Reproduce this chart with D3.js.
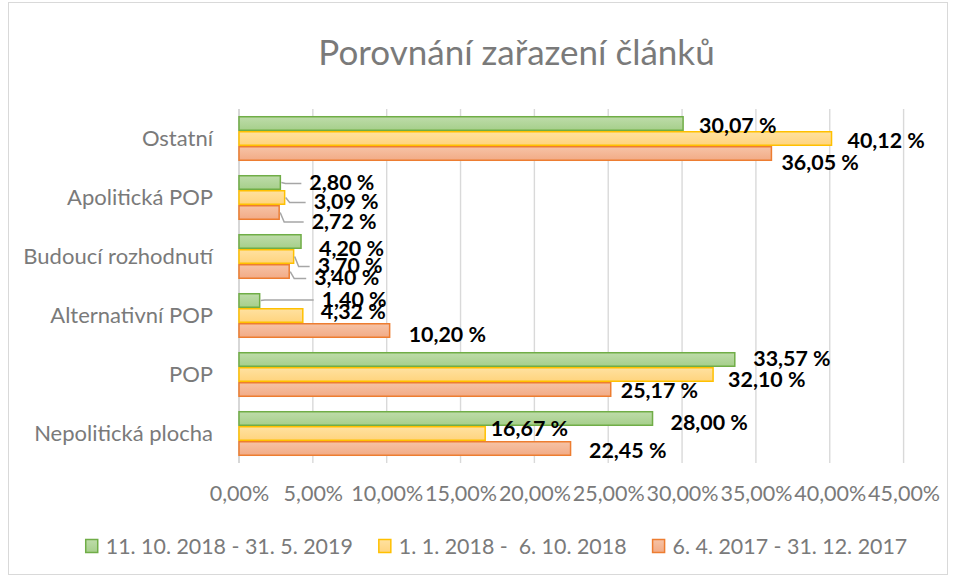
<!DOCTYPE html>
<html><head><meta charset="utf-8">
<script src="https://cdnjs.cloudflare.com/ajax/libs/d3/7.8.5/d3.min.js"></script>
<style>
html,body{margin:0;padding:0;background:#fff;}
svg{display:block;}
text{font-family:Lato,"Open Sans",sans-serif;}
</style></head>
<body>
<svg id="chart" width="956" height="578"></svg>
<script>
// ---- data ----
const title = "Porovnání zařazení článků";
const categories = ["Ostatní","Apolitická POP","Budoucí rozhodnutí","Alternativní POP","POP","Nepolitická plocha"];
const seriesNames = ["11. 10. 2018 - 31. 5. 2019","1. 1. 2018 -  6. 10. 2018","6. 4. 2017 - 31. 12. 2017"];
const valuesA = [30.07, 2.80, 4.20, 1.40, 33.57, 28.00];
const valuesB = [40.12, 3.09, 3.70, 4.32, 32.10, 16.67];
const valuesC = [36.05, 2.72, 3.40, 10.20, 25.17, 22.45];
const tickValues = [0,5,10,15,20,25,30,35,40,45];

// ---- layout / style ----
const seriesStyle = [
  {stroke:"#70ad47", top:"#bedcaa", bottom:"#a6cf8b"},
  {stroke:"#ffc000", top:"#ffe1a0", bottom:"#ffd47e"},
  {stroke:"#ed7d31", top:"#f6c3a6", bottom:"#f2ab86"}
];
// label nudges [dx, dy, leader] per series per category, relative to default position
const labelNudge = [
  [[0,0,0],[13,-2,1],[2,4.5,0],[46,-3.5,1],[2.5,-3,0],[2,2,0]],
  [[0,0,0],[13,2,1],[8,7,1],[2,-6,0],[-1,3,0],[-10.5,-7.5,0]],
  [[-6,7,0],[16.5,6.5,1],[9,4,1],[3,2,0],[-6,-1.5,0],[2.5,0,0]]
];
const seriesValues = [valuesA, valuesB, valuesC];

const svg = d3.select("#chart");
const textGray = "#7a7a7a";

// chart border
svg.append("rect").attr("x",8.5).attr("y",2.5).attr("width",939).attr("height",572)
  .attr("fill","none").attr("stroke","#d9d9d9").attr("stroke-width",1);

// gradients
const defs = svg.append("defs");
seriesStyle.forEach((s,i)=>{
  const g = defs.append("linearGradient").attr("id","g"+i).attr("x1",0).attr("y1",0).attr("x2",0).attr("y2",1);
  g.append("stop").attr("offset","0%").attr("stop-color",s.top);
  g.append("stop").attr("offset","100%").attr("stop-color",s.bottom);
});

const x = d3.scaleLinear().domain([0,45]).range([239,903.6]);
const y = d3.scaleBand().domain(categories).range([109,463]).paddingInner(0.237).paddingOuter(0.1185);
const ys = d3.scaleBand().domain([0,1,2]).range([0,y.bandwidth()]);

// title
svg.append("text").attr("x",516.5).attr("y",64.5).attr("text-anchor","middle")
  .attr("font-size",35).attr("fill",textGray).text(title);

// gridlines
svg.append("g").selectAll("line").data(tickValues).join("line")
  .attr("x1",d=>x(d)).attr("x2",d=>x(d)).attr("y1",109).attr("y2",463)
  .attr("stroke",d=>d===0?"#c6c6c6":"#d9d9d9").attr("stroke-width",1.4);

// x axis labels
const xAxis = d3.axisBottom(x).tickValues(tickValues).tickSize(0)
  .tickFormat(d=>d.toFixed(2).replace(".",",")+"%");
const gx = svg.append("g").attr("transform","translate(0,463)").call(xAxis);
gx.select(".domain").remove();
gx.selectAll("text").attr("y",37.8).attr("dy",0).attr("font-size",21.5)
  .attr("fill",textGray).style("font-family","Lato");

// y axis labels
const yAxis = d3.axisLeft(y).tickSize(0).tickPadding(0);
const gy = svg.append("g").attr("transform","translate(213,0)").call(yAxis);
gy.select(".domain").remove();
gy.selectAll("text").attr("x",0).attr("dy","0.36em").attr("font-size",22)
  .attr("fill",textGray).style("font-family","Lato");

// bars
const barData = [];
seriesValues.forEach((vals,s)=>vals.forEach((v,c)=>barData.push({s,c,v})));
svg.append("g").selectAll("rect").data(barData).join("rect")
  .attr("x",x(0)).attr("y",d=>y(categories[d.c])+ys(d.s)+0.75)
  .attr("width",d=>x(d.v)-x(0)).attr("height",ys.bandwidth()-1.5)
  .attr("fill",d=>`url(#g${d.s})`).attr("stroke",d=>seriesStyle[d.s].stroke).attr("stroke-width",1.5);

// labels
const fmt = v=>v.toFixed(2).replace(".",",")+" %";
const lab = barData.map(d=>{
  const n = labelNudge[d.s][d.c];
  const bx = x(d.v), by = y(categories[d.c])+ys(d.s)+ys.bandwidth()/2;
  return {...d, bx, by, lx: bx+16+n[0], ly: by+2+n[1], leader:n[2]};
});
svg.append("g").selectAll("polyline").data(lab.filter(d=>d.leader)).join("polyline")
  .attr("points",d=>`${d.bx+1},${d.by} ${d.bx+5},${d.ly+1} ${d.lx-8},${d.ly+1}`)
  .attr("fill","none").attr("stroke","#a6a6a6").attr("stroke-width",1.5);
svg.append("g").selectAll("text").data(lab).join("text")
  .attr("x",d=>d.lx).attr("y",d=>d.ly).attr("dy","0.36em")
  .attr("font-size",21.4).attr("font-weight","bold").attr("fill","#000").text(d=>fmt(d.v));

// legend
const lg = svg.append("g");
const items = lg.selectAll("g").data(seriesNames).join("g");
items.append("rect").attr("x",0).attr("y",-6.5).attr("width",12).attr("height",13)
  .attr("fill",(d,i)=>`url(#g${i})`).attr("stroke",(d,i)=>seriesStyle[i].stroke).attr("stroke-width",1.5);
items.append("text").attr("x",20).attr("dy","0.36em").attr("font-size",21.4)
  .attr("fill",textGray).attr("xml:space","preserve").style("white-space","pre").text(d=>d);
let cx = 0; const pos=[];
items.each(function(d,i){ const w = d3.select(this).select("text").node().getComputedTextLength(); pos.push(cx); cx += 20 + w + 26; });
const total = cx - 26;
items.attr("transform",(d,i)=>`translate(${496.5 - total/2 + pos[i]},546)`);
</script>
</body></html>
